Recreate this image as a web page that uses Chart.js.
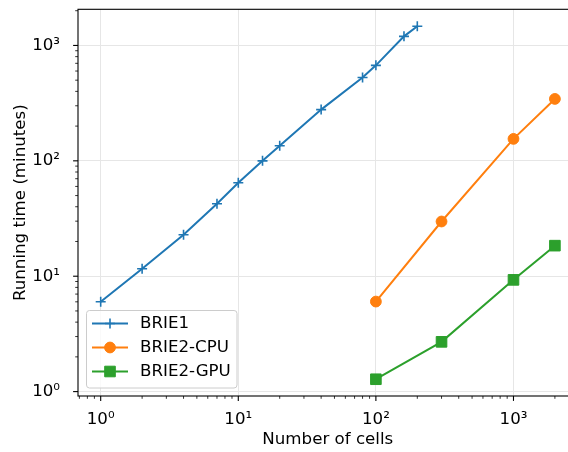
<!DOCTYPE html>
<html>
<head>
<meta charset="utf-8">
<script src="https://cdn.jsdelivr.net/npm/chart.js@4.4.1/dist/chart.umd.min.js"></script>
<style>
  html, body { margin: 0; padding: 0; background: #fff; overflow: hidden; }
  #wrap { width: 568px; height: 452px; overflow: hidden; }
</style>
</head>
<body>
<div id="wrap"><canvas id="chart" width="580" height="452"></canvas></div>
<script>
// ─── Data ─────────────────────────────────────────────────────────────────────
const brie1Cells = [1, 2, 4, 7, 10, 15, 20, 40, 80, 100, 160, 200];
const brie1Minutes = [6.0, 11.6, 22.9, 42.5, 64.6, 100, 135, 278, 528, 672, 1199, 1466];

const brie2Cells = [100, 300, 1000, 2000];
const brie2CpuMinutes = [6.03, 29.8, 155, 344];
const brie2GpuMinutes = [1.28, 2.7, 9.3, 18.4];

const decadeTicks = [1, 10, 100, 1000];
const decadeLabels = ['10⁰', '10¹', '10²', '10³'];

const seriesNames = ['BRIE1', 'BRIE2-CPU', 'BRIE2-GPU'];

// ─── Style ────────────────────────────────────────────────────────────────────
const FONT = { family: 'DejaVu Sans', size: 16.67 };
const COLORS = ['#1f77b4', '#ff7f0e', '#2ca02c'];
const MARKERS = [
    { pointStyle: 'cross', radius: 5, borderWidth: 1.6 },
    { pointStyle: 'circle', radius: 5.4, borderWidth: 1 },
    { pointStyle: 'rect', radius: 7.5, borderWidth: 1 },
];

const toPoints = (xs, ys) => xs.map((x, i) => ({ x, y: ys[i] }));

const decadeIndex = v => decadeTicks.findIndex(t => Math.abs(v - t) / t < 1e-9);

// major + minor ticks (1..9 per decade) inside [min, max]
function logTicks(min, max) {
    const out = [];
    for (let d = Math.floor(Math.log10(min)); d <= Math.ceil(Math.log10(max)); d++) {
        for (let m = 1; m <= 9; m++) {
            const v = m * Math.pow(10, d);
            if (v >= min && v <= max) out.push({ value: v, major: m === 1 });
        }
    }
    return out;
}

function axis(min, max, isX) {
    return {
        type: 'logarithmic',
        min,
        max,
        afterBuildTicks: s => { s.ticks = logTicks(s.min, s.max); },
        afterFit: s => {
            if (isX) {
                s.height = 56;
                s.paddingLeft = 0;
                s.paddingRight = 0;
            } else {
                s.width = 78;
                s.paddingTop = 0;
                s.paddingBottom = 0;
            }
        },
        grid: {
            color: c => (c.tick && c.tick.major ? '#e6e6e6' : 'rgba(0,0,0,0)'),
            lineWidth: 1,
            drawTicks: false,
        },
        border: { display: false },
        ticks: {
            autoSkip: false,
            maxRotation: 0,
            minRotation: 0,
            padding: isX ? 14 : 18,
            color: '#000',
            font: FONT,
            callback: v => {
                const i = decadeIndex(v);
                return i >= 0 ? decadeLabels[i] : '';
            },
        },
        title: {
            display: true,
            text: isX ? 'Number of cells' : 'Running time (minutes)',
            color: '#000',
            font: FONT,
            padding: isX ? { top: 0, bottom: 2.5 } : { top: 11, bottom: 0 },
        },
    };
}

// ─── Spines and outward tick marks ────────────────────────────────────────────
const framePlugin = {
    id: 'frame',
    afterDraw(chart) {
        const { ctx, chartArea: a, scales } = chart;
        ctx.save();
        ctx.strokeStyle = '#000';
        ctx.lineWidth = 1.1;
        ctx.strokeRect(a.left, a.top, a.right - a.left, a.bottom - a.top);

        scales.x.ticks.forEach(t => {
            const px = scales.x.getPixelForValue(t.value);
            if (px < a.left - 0.5 || px > a.right + 0.5) return;
            ctx.lineWidth = t.major ? 1.1 : 0.8;
            ctx.beginPath();
            ctx.moveTo(px, a.bottom);
            ctx.lineTo(px, a.bottom + (t.major ? 4.9 : 2.8));
            ctx.stroke();
        });
        scales.y.ticks.forEach(t => {
            const py = scales.y.getPixelForValue(t.value);
            if (py < a.top - 0.5 || py > a.bottom + 0.5) return;
            ctx.lineWidth = t.major ? 1.1 : 0.8;
            ctx.beginPath();
            ctx.moveTo(a.left, py);
            ctx.lineTo(a.left - (t.major ? 4.9 : 2.8), py);
            ctx.stroke();
        });
        ctx.restore();
    },
};

// ─── Legend box in the lower-left corner of the plot ──────────────────────────
const legendBoxPlugin = {
    id: 'legendBox',
    afterDraw(chart) {
        const { ctx } = chart;
        const box = { x: 86.5, y: 310.5, w: 150.5, h: 77.5 };
        ctx.save();
        ctx.beginPath();
        ctx.roundRect(box.x, box.y, box.w, box.h, 3);
        ctx.fillStyle = 'rgba(255,255,255,0.8)';
        ctx.fill();
        ctx.strokeStyle = '#cccccc';
        ctx.lineWidth = 1;
        ctx.stroke();

        const rows = [323.5, 347.5, 371.5];
        chart.data.datasets.forEach((ds, i) => {
            const y = rows[i];
            ctx.strokeStyle = ds.borderColor;
            ctx.lineWidth = ds.borderWidth;
            ctx.beginPath();
            ctx.moveTo(92, y);
            ctx.lineTo(128, y);
            ctx.stroke();

            ctx.fillStyle = ds.pointBackgroundColor;
            ctx.strokeStyle = ds.pointBorderColor;
            ctx.lineWidth = ds.pointBorderWidth;
            Chart.helpers.drawPoint(ctx, {
                pointStyle: ds.pointStyle,
                radius: ds.pointRadius,
                rotation: 0,
                borderWidth: ds.pointBorderWidth,
            }, 110, y);

            ctx.fillStyle = '#000';
            ctx.font = `${FONT.size}px "${FONT.family}"`;
            ctx.textBaseline = 'middle';
            ctx.textAlign = 'left';
            ctx.fillText(ds.label, 140, y);
        });
        ctx.restore();
    },
};

// ─── Chart ────────────────────────────────────────────────────────────────────
const seriesData = [
    toPoints(brie1Cells, brie1Minutes),
    toPoints(brie2Cells, brie2CpuMinutes),
    toPoints(brie2Cells, brie2GpuMinutes),
];

new Chart(document.getElementById('chart'), {
    type: 'scatter',
    data: {
        datasets: seriesData.map((data, i) => ({
            label: seriesNames[i],
            data,
            showLine: true,
            borderColor: COLORS[i],
            backgroundColor: COLORS[i],
            borderWidth: 2,
            pointStyle: MARKERS[i].pointStyle,
            pointRadius: MARKERS[i].radius,
            pointHoverRadius: MARKERS[i].radius,
            pointBorderWidth: MARKERS[i].borderWidth,
            pointBackgroundColor: COLORS[i],
            pointBorderColor: COLORS[i],
        })),
    },
    options: {
        responsive: false,
        animation: false,
        layout: { autoPadding: false, padding: { top: 9.3, right: 2.4, left: 0, bottom: 0 } },
        plugins: {
            legend: { display: false },
            tooltip: { enabled: false },
        },
        scales: {
            x: axis(0.684, 2924, true),
            y: axis(0.916, 2057, false),
        },
    },
    plugins: [framePlugin, legendBoxPlugin],
});
</script>
</body>
</html>
